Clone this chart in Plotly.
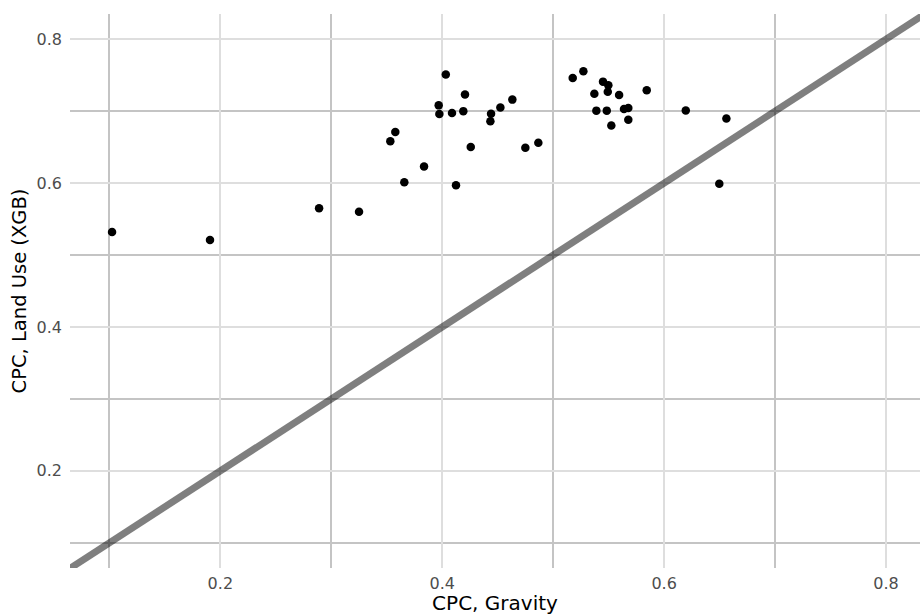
import plotly.graph_objects as go

cpc_gravity = [0.1024, 0.1907, 0.2890, 0.3250, 0.3532, 0.3577, 0.3658, 0.3836, 0.4124,
               0.3968, 0.3974, 0.4032, 0.4088, 0.4205, 0.4190, 0.4257, 0.4440, 0.4434,
               0.4524, 0.4632, 0.4749, 0.4866, 0.5176, 0.5272, 0.5371, 0.5389, 0.5449,
               0.5497, 0.5492, 0.5483, 0.5524, 0.5594, 0.5638, 0.5677, 0.5677, 0.5843,
               0.6195, 0.6561, 0.6497]
cpc_landuse = [0.532, 0.521, 0.565, 0.560, 0.658, 0.671, 0.601, 0.623, 0.597,
               0.708, 0.696, 0.751, 0.6975, 0.723, 0.700, 0.650, 0.6965, 0.686,
               0.705, 0.716, 0.649, 0.656, 0.746, 0.7555, 0.724, 0.7007, 0.741,
               0.736, 0.727, 0.7007, 0.680, 0.7225, 0.703, 0.7045, 0.688, 0.729,
               0.701, 0.6896, 0.599]
identity_line = [0.0, 1.0]

FONT = "DejaVu Sans"

fig = go.Figure()
fig.add_trace(go.Scatter(x=cpc_gravity, y=cpc_landuse, mode="markers",
                         marker=dict(color="black", size=8.5, line=dict(width=0)),
                         showlegend=False, hoverinfo="x+y"))
fig.add_trace(go.Scatter(x=identity_line, y=identity_line, mode="lines",
                         line=dict(color="rgba(0,0,0,0.5)", width=7),
                         showlegend=False, hoverinfo="skip"))

axis_common = dict(
    showline=False, zeroline=False, ticks="",
    tickfont=dict(family=FONT, size=16, color="#4d4d4d"),
    showgrid=True, gridcolor="#dedede", gridwidth=1.6,
    tick0=0, dtick=0.2, tickformat=".1f",
    minor=dict(tick0=0.1, dtick=0.2, showgrid=True, gridcolor="#c4c4c4", gridwidth=1.6),
)

fig.update_layout(
    width=920, height=615,
    margin=dict(l=70, r=0, t=14, b=47),
    paper_bgcolor="white", plot_bgcolor="white",
    font=dict(family=FONT),
    xaxis=dict(range=[0.0645, 0.8306], ticklabelstandoff=4,
               title=dict(text="CPC, Gravity", font=dict(family=FONT, size=20, color="black"), standoff=2),
               **axis_common),
    yaxis=dict(range=[0.065, 0.835], ticklabelstandoff=7,
               title=dict(text="CPC, Land Use (XGB)", font=dict(family=FONT, size=19.5, color="black"), standoff=4),
               **axis_common),
)

fig.write_html("out.html")
